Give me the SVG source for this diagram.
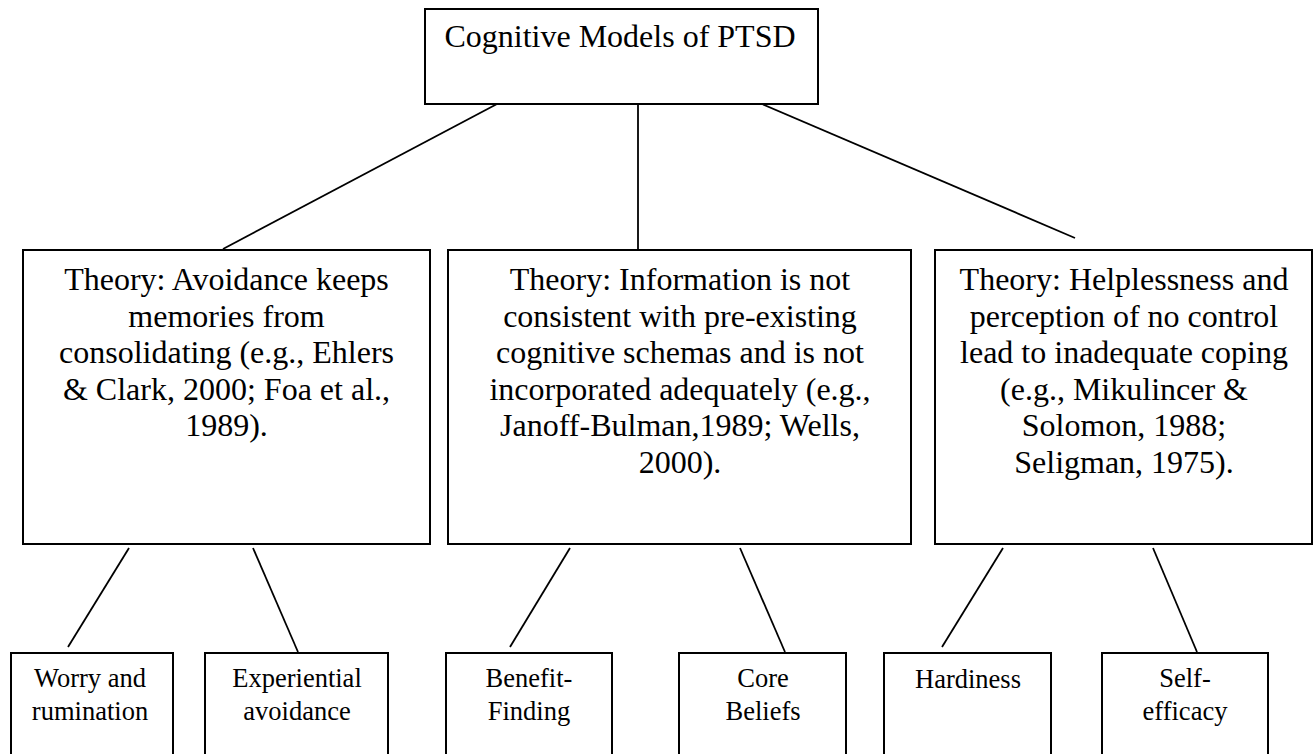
<svg xmlns="http://www.w3.org/2000/svg" width="1314" height="754" viewBox="0 0 1314 754">
<style>
.box{fill:#fff;stroke:#000;stroke-width:2}
.t{font-family:'Liberation Serif','Times New Roman',Tinos,'DejaVu Serif',serif;fill:#000;text-anchor:middle}
.big{font-size:32px}
.small{font-size:26.5px}
.c line{stroke:#000;stroke-width:1.8}
</style>
<rect width="1314" height="754" fill="#fff"/>
<g class="c" id="connectors">
<line x1="497" y1="104" x2="223" y2="249"/>
<line x1="638" y1="104" x2="638" y2="249"/>
<line x1="762" y1="104" x2="1075" y2="238"/>
<line x1="129" y1="548" x2="68" y2="647"/>
<line x1="253" y1="548" x2="298" y2="652"/>
<line x1="570" y1="548" x2="510" y2="647"/>
<line x1="740" y1="548" x2="785" y2="652"/>
<line x1="1003" y1="548" x2="942" y2="647"/>
<line x1="1153" y1="548" x2="1197" y2="652"/>
</g>
<g id="root">
<rect class="box" x="425" y="9" width="393" height="95"/>
<text class="t big" x="620" y="47" font-family="Liberation Serif, serif">Cognitive Models of PTSD</text>
</g>
<g id="theory-avoidance">
<rect class="box" x="23" y="250" width="407" height="294"/>
<text class="t big" x="226.5" y="290">Theory: Avoidance keeps</text>
<text class="t big" x="226.5" y="326.5">memories from</text>
<text class="t big" x="226.5" y="363">consolidating (e.g., Ehlers</text>
<text class="t big" x="226.5" y="399.5">&amp; Clark, 2000; Foa et al.,</text>
<text class="t big" x="226.5" y="436">1989).</text>
</g>
<g id="theory-information">
<rect class="box" x="448" y="250" width="463" height="294"/>
<text class="t big" x="680" y="290">Theory: Information is not</text>
<text class="t big" x="680" y="326.5">consistent with pre-existing</text>
<text class="t big" x="680" y="363">cognitive schemas and is not</text>
<text class="t big" x="680" y="399.5">incorporated adequately (e.g.,</text>
<text class="t big" x="680" y="436">Janoff-Bulman,1989; Wells,</text>
<text class="t big" x="680" y="473">2000).</text>
</g>
<g id="theory-helplessness">
<rect class="box" x="935" y="250" width="377" height="294"/>
<text class="t big" x="1124" y="290">Theory: Helplessness and</text>
<text class="t big" x="1124" y="326.5">perception of no control</text>
<text class="t big" x="1124" y="363">lead to inadequate coping</text>
<text class="t big" x="1124" y="399.5">(e.g., Mikulincer &amp;</text>
<text class="t big" x="1124" y="436">Solomon, 1988;</text>
<text class="t big" x="1124" y="473">Seligman, 1975).</text>
</g>
<g id="worry">
<rect class="box" x="11" y="653" width="162" height="120"/>
<text class="t small" x="90" y="687">Worry and</text>
<text class="t small" x="90" y="720">rumination</text>
</g>
<g id="experiential">
<rect class="box" x="205" y="653" width="183" height="120"/>
<text class="t small" x="297" y="687">Experiential</text>
<text class="t small" x="297" y="720">avoidance</text>
</g>
<g id="benefit">
<rect class="box" x="446" y="653" width="166" height="120"/>
<text class="t small" x="529" y="687">Benefit-</text>
<text class="t small" x="529" y="720">Finding</text>
</g>
<g id="core">
<rect class="box" x="679" y="653" width="167" height="120"/>
<text class="t small" x="763" y="687">Core</text>
<text class="t small" x="763" y="720">Beliefs</text>
</g>
<g id="hardiness">
<rect class="box" x="884" y="653" width="167" height="120"/>
<text class="t small" x="968" y="688">Hardiness</text>
</g>
<g id="self-efficacy">
<rect class="box" x="1102" y="653" width="166" height="120"/>
<text class="t small" x="1185" y="687">Self-</text>
<text class="t small" x="1185" y="720">efficacy</text>
</g>
</svg>
